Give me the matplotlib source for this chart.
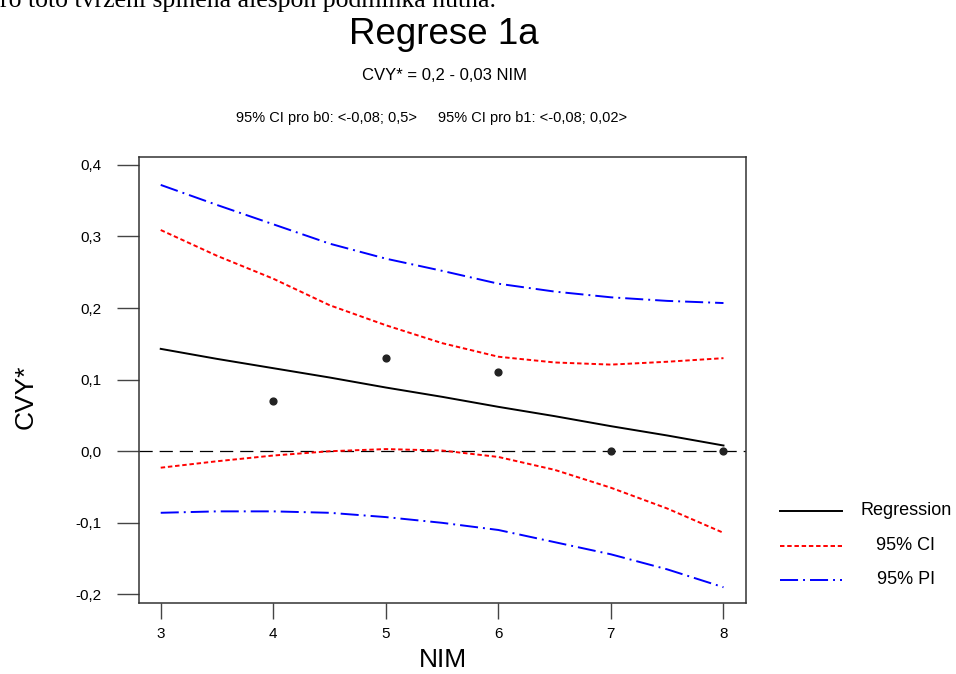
import numpy as np
from matplotlib import pyplot as plt

plt.rcParams["font.family"] = ["Liberation Sans", "DejaVu Sans"]
plt.rcParams["lines.scale_dashes"] = False

# ===data
nim_pts = [4, 5, 6, 7, 8]
cvy_pts = [0.07, 0.13, 0.11, 0.0, 0.0]

grid_x = [3, 3.5, 4, 4.5, 5, 5.5, 6, 6.5, 7, 7.5, 8]
reg = [0.143, 0.129, 0.116, 0.103, 0.089, 0.076, 0.062, 0.049, 0.035, 0.022, 0.008]
ci_up = [0.309, 0.273, 0.241, 0.204, 0.176, 0.151, 0.132, 0.124, 0.121, 0.125, 0.130]
ci_lo = [-0.023, -0.014, -0.006, 0.000, 0.003, 0.001, -0.008, -0.026, -0.051, -0.080, -0.114]
pi_up = [0.372, 0.344, 0.317, 0.290, 0.269, 0.252, 0.234, 0.223, 0.215, 0.210, 0.207]
pi_lo = [-0.086, -0.084, -0.084, -0.086, -0.092, -0.100, -0.110, -0.127, -0.144, -0.165, -0.190]

x_ticks = [3, 4, 5, 6, 7, 8]
y_ticks = [-0.2, -0.1, 0.0, 0.1, 0.2, 0.3, 0.4]
y_ticklabels = ["-0,2", "-0,1", "0,0", "0,1", "0,2", "0,3", "0,4"]

legend_labels = ["Regression", "95% CI", "95% PI"]

CI_DASH = (0, (3.2, 2.0))
PI_DASH = (0, (13.0, 3.6, 1.4, 3.6))


def main():
    fig = plt.figure(figsize=(9.56, 6.74), dpi=100)
    W, H = 956, 674
    ax = fig.add_axes([139 / W, 1 - 603 / H, (746 - 139) / W, (603 - 157) / H])

    ax.axhline(0, color="black", lw=0.9, ls=(0, (9.5, 5.0)), zorder=1)
    ax.plot(grid_x, pi_up, color="#0000ff", lw=1.4, ls=PI_DASH)
    ax.plot(grid_x, pi_lo, color="#0000ff", lw=1.4, ls=PI_DASH)
    ax.plot(grid_x, ci_up, color="#ff0000", lw=1.4, ls=CI_DASH)
    ax.plot(grid_x, ci_lo, color="#ff0000", lw=1.4, ls=CI_DASH)
    ax.plot(grid_x, reg, color="black", lw=1.4)
    ax.scatter(nim_pts, cvy_pts, s=24, color="#222222", zorder=5)

    ax.set_xlim(2.807, 8.2)
    ax.set_ylim(-0.212, 0.411)
    ax.set_xticks(x_ticks)
    ax.set_xticklabels([str(v) for v in x_ticks])
    ax.set_yticks(y_ticks)
    ax.set_yticklabels(y_ticklabels)
    ax.tick_params(axis="y", direction="out", length=15.8, width=1.0, color="#444444",
                   labelsize=11, pad=11)
    ax.tick_params(axis="x", direction="out", length=11.5, width=1.0, color="#444444",
                   labelsize=11, pad=6)
    for sp in ax.spines.values():
        sp.set_color("#333333")
        sp.set_linewidth(1.1)

    fig.text(443 / W, 1 - 660 / H, "NIM", fontsize=19, ha="center", va="center")
    fig.text(26 / W, 1 - 397 / H, "CVY*", fontsize=19, rotation=90, ha="center", va="center")

    fig.text(444 / W, 1 - 34 / H, "Regrese 1a", fontsize=26.5, ha="center", va="center")
    fig.text(445 / W, 1 - 76 / H, "CVY* = 0,2 - 0,03 NIM", fontsize=12, ha="center", va="center")
    fig.text(236 / W, 1 - 118 / H, "95% CI pro b0: <-0,08; 0,5>", fontsize=10.5, ha="left", va="center")
    fig.text(438 / W, 1 - 118 / H, "95% CI pro b1: <-0,08; 0,02>", fontsize=10.5, ha="left", va="center")

    # cut-off line of the surrounding document
    fig.text(0, 1 - 7 / H, "ro toto tvrzení splněna alespoň podmínka nutná.",
             fontsize=18.5, family=["Liberation Serif", "DejaVu Serif"], ha="left", va="baseline")

    # ===legend drawn by hand (labels are centred)
    lax = fig.add_axes([770 / W, 1 - 600 / H, 180 / W, 110 / H])
    lax.set_xlim(0, 180)
    lax.set_ylim(110, 0)
    lax.axis("off")
    rows = [20.7, 55.5, 89.7]
    styles = [("black", "-"), ("#ff0000", CI_DASH), ("#0000ff", PI_DASH)]
    for yy, (c, ls), lab in zip(rows, styles, legend_labels):
        lax.plot([10, 72], [yy, yy], color=c, ls=ls, lw=1.4)
        lax.text(136, yy, lab, fontsize=13, ha="center", va="center")

    fig.savefig("out.png", dpi=100)


if __name__ == "__main__":
    main()
